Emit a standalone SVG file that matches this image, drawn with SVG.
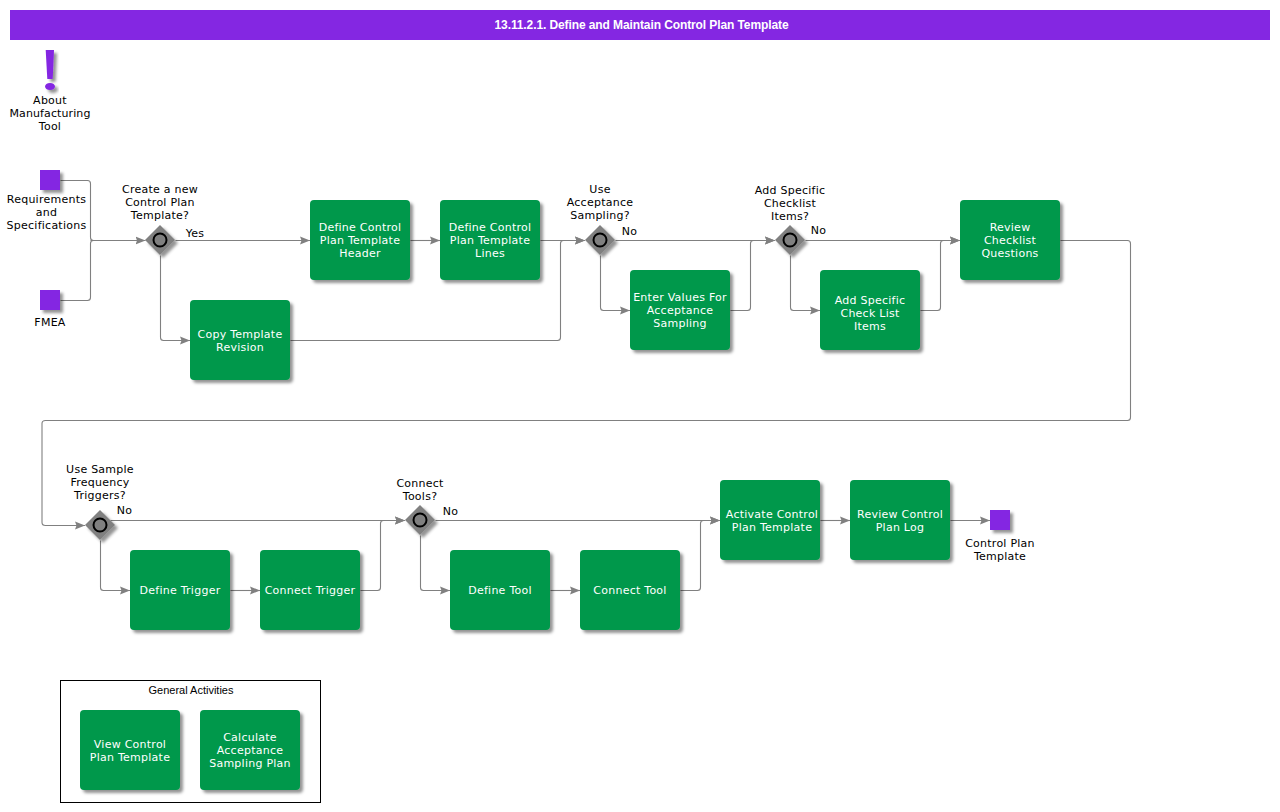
<svg xmlns="http://www.w3.org/2000/svg" width="1280" height="812" viewBox="0 0 1280 812">
<style>
text{font-family:"DejaVu Sans",Verdana,sans-serif;font-size:11px;letter-spacing:.25px;text-anchor:middle;fill:#000}
.t text,text.w{fill:#fff}
.box{fill:#03984c}
.sq,.ex{fill:#8427e2}
.dia{fill:#808080}
.c{fill:none;stroke:#808080;stroke-width:1.1;marker-end:url(#a)}
.n{fill:none;stroke:#808080;stroke-width:1.1}
.sh{filter:url(#s)}
</style>
<defs>
<filter id="s" x="-30%" y="-30%" width="170%" height="170%"><feDropShadow dx="3" dy="3" stdDeviation="1.6" flood-color="#000" flood-opacity="0.42"/></filter>
<marker id="a" markerUnits="userSpaceOnUse" markerWidth="11" markerHeight="10" refX="10" refY="5" orient="auto"><path d="M0 1L10 5L0 9L1.5 5Z" fill="#808080"/></marker>
<rect id="b" class="box sh" width="100" height="80" rx="4"/>
<g id="d"><path class="dia sh" d="M0-15L15 0L0 15L-15 0Z"/><circle r="6.5" fill="#808080" stroke="#000" stroke-width="2"/></g>
</defs>

<rect id="title-bar" x="10" y="10" width="1260" height="30" fill="#8427e2"/>
<text x="641.5" y="29" style="font-family:'Liberation Sans',Arial,sans-serif;font-size:12px;font-weight:bold;letter-spacing:-.1px" fill="#fff" class="w">13.11.2.1. Define and Maintain Control Plan Template</text>

<g id="connectors" transform="translate(.5 .5)">
<path class="n" d="M60 180H87Q90 180 90 183V237Q90 240 93 240"/>
<path class="n" d="M60 300H87Q90 300 90 297V243Q90 240 93 240"/>
<path class="c" d="M90 240H145"/>
<path class="c" d="M175 240H309.500"/>
<path class="c" d="M160 255V337Q160 340 163 340H189.500"/>
<path class="c" d="M410 240H439.500"/>
<path class="c" d="M540 240H584.500"/>
<path class="c" d="M290 340H557Q560 340 560 337V243Q560 240 563 240H584.500"/>
<path class="c" d="M615 240H774.500"/>
<path class="c" d="M600 255V307Q600 310 603 310H629.500"/>
<path class="c" d="M730 310H747Q750 310 750 307V243Q750 240 753 240H774.500"/>
<path class="c" d="M805 240H959.500"/>
<path class="c" d="M790 255V307Q790 310 793 310H819.500"/>
<path class="c" d="M920 310H937Q940 310 940 307V243Q940 240 943 240H959.500"/>
<path class="c" d="M1060 240H1127Q1130 240 1130 243V417Q1130 420 1127 420H45Q41.500 420 41.500 423V522Q41.500 525 45 525H84.500"/>
<path class="c" d="M110 520H404.500"/>
<path class="c" d="M100 540V587Q100 590 103 590H129.500"/>
<path class="c" d="M230 590H259.500"/>
<path class="c" d="M360 590H377Q380 590 380 587V523Q380 520 383 520H404.500"/>
<path class="c" d="M435 520H719.500"/>
<path class="c" d="M420 535V587Q420 590 423 590H449.500"/>
<path class="c" d="M550 590H579.500"/>
<path class="c" d="M680 590H697Q700 590 700 587V523Q700 520 703 520H719.500"/>
<path class="c" d="M820 520H849.500"/>
<path class="c" d="M950 520H989.500"/>
</g>

<g id="about-tool">
<path class="ex sh" d="M45.7 50H54L52.7 79H47.300Z M50 83C53 83 55 84.600 55 86.500C55 88.400 53 90 50 90C47 90 45 88.400 45 86.500C45 84.600 47 83 50 83Z"/>
<text x="50" y="104">About</text><text x="50" y="117" style="letter-spacing:.1px">Manufacturing</text><text x="50" y="130">Tool</text>
</g>
<g id="requirements"><rect class="sq sh" x="40" y="170" width="20" height="20"/>
<text x="46.500" y="203">Requirements</text><text x="46.500" y="216">and</text><text x="46.500" y="229">Specifications</text></g>
<g id="fmea"><rect class="sq sh" x="40" y="290" width="20" height="20"/><text x="50" y="326">FMEA</text></g>

<g id="gw-create"><use href="#d" x="160" y="240"/>
<text x="160" y="193">Create a new</text><text x="160" y="206">Control Plan</text><text x="160" y="219">Template?</text><text x="195" y="237">Yes</text></g>
<g id="define-header" class="t"><use href="#b" x="310" y="200"/><text x="360" y="231">Define Control</text><text x="360" y="244">Plan Template</text><text x="360" y="257">Header</text></g>
<g id="define-lines" class="t"><use href="#b" x="440" y="200"/><text x="490" y="231">Define Control</text><text x="490" y="244">Plan Template</text><text x="490" y="257">Lines</text></g>
<g id="copy-revision" class="t"><use href="#b" x="190" y="300"/><text x="240" y="338">Copy Template</text><text x="240" y="351">Revision</text></g>
<g id="gw-acceptance"><use href="#d" x="600" y="240"/>
<text x="600" y="193">Use</text><text x="600" y="206">Acceptance</text><text x="600" y="219">Sampling?</text><text x="629.5" y="235">No</text></g>
<g id="enter-values" class="t"><use href="#b" x="630" y="270"/><text x="680" y="301">Enter Values For</text><text x="680" y="314">Acceptance</text><text x="680" y="327">Sampling</text></g>
<g id="gw-checklist"><use href="#d" x="790" y="240"/>
<text x="790" y="194">Add Specific</text><text x="790" y="207">Checklist</text><text x="790" y="220">Items?</text><text x="818.5" y="234">No</text></g>
<g id="add-items" class="t"><use href="#b" x="820" y="270"/><text x="870" y="304">Add Specific</text><text x="870" y="317">Check List</text><text x="870" y="330">Items</text></g>
<g id="review-questions" class="t"><use href="#b" x="960" y="200"/><text x="1010" y="231">Review</text><text x="1010" y="244">Checklist</text><text x="1010" y="257">Questions</text></g>

<g id="gw-triggers"><use href="#d" x="100" y="525"/>
<text x="100" y="473">Use Sample</text><text x="100" y="486">Frequency</text><text x="100" y="499">Triggers?</text><text x="124.5" y="514">No</text></g>
<g id="define-trigger" class="t"><use href="#b" x="130" y="550"/><text x="180" y="594">Define Trigger</text></g>
<g id="connect-trigger" class="t"><use href="#b" x="260" y="550"/><text x="310" y="594">Connect Trigger</text></g>
<g id="gw-tools"><use href="#d" x="420" y="520"/>
<text x="420" y="487">Connect</text><text x="420" y="500">Tools?</text><text x="450.5" y="515">No</text></g>
<g id="define-tool" class="t"><use href="#b" x="450" y="550"/><text x="500" y="594">Define Tool</text></g>
<g id="connect-tool" class="t"><use href="#b" x="580" y="550"/><text x="630" y="594">Connect Tool</text></g>
<g id="activate" class="t"><use href="#b" x="720" y="480"/><text x="772" y="518">Activate Control</text><text x="772" y="531">Plan Template</text></g>
<g id="review-log" class="t"><use href="#b" x="850" y="480"/><text x="900" y="518">Review Control</text><text x="900" y="531">Plan Log</text></g>
<g id="control-plan-template"><rect class="sq sh" x="990" y="510" width="20" height="20"/><text x="1000" y="547">Control Plan</text><text x="1000" y="560">Template</text></g>

<g id="general-activities">
<rect x="60.500" y="680.500" width="260" height="122" fill="none" stroke="#000"/>
<text x="191" y="694" style="font-family:'Liberation Sans',Arial,sans-serif;font-size:11px;letter-spacing:0">General Activities</text>
<g id="view-template" class="t"><use href="#b" x="80" y="710"/><text x="130" y="748">View Control</text><text x="130" y="761">Plan Template</text></g>
<g id="calc-sampling" class="t"><use href="#b" x="200" y="710"/><text x="250" y="741">Calculate</text><text x="250" y="754">Acceptance</text><text x="250" y="767">Sampling Plan</text></g>
</g>
</svg>
